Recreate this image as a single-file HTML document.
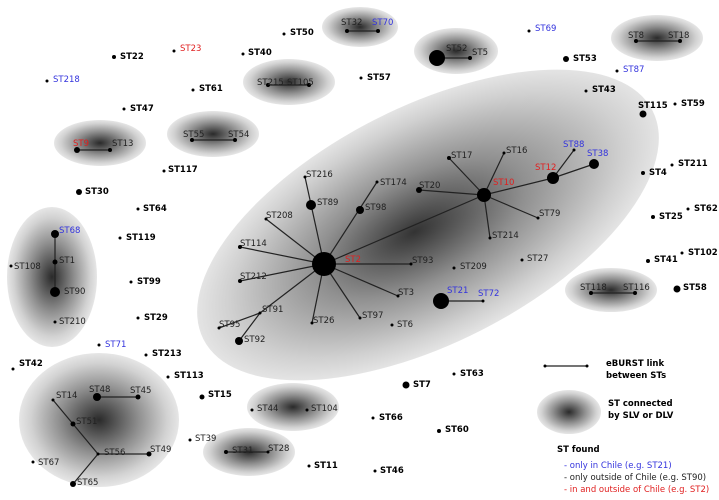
<!DOCTYPE html>
<html><head><style>
html,body{margin:0;padding:0;background:#fff}
svg{display:block}
text{font-family:"DejaVu Sans","Liberation Sans",sans-serif;font-size:8.5px;fill:#222}
.b{font-weight:bold;fill:#000}
.bl{fill:#3333dd}.rd{fill:#e02020}
line{stroke:#222;stroke-width:1.2}
</style></head><body>
<svg width="719" height="500" viewBox="0 0 719 500" xmlns="http://www.w3.org/2000/svg">
<defs>
<radialGradient id="g" cx="50%" cy="50%" r="50%">
<stop offset="0" stop-color="#2a2a2a"/><stop offset="0.5" stop-color="#909090"/><stop offset="0.85" stop-color="#d2d2d2"/><stop offset="1" stop-color="#e6e6e6"/>
</radialGradient>
<radialGradient id="gm" cx="50%" cy="50%" r="50%" fx="47%" fy="50%">
<stop offset="0" stop-color="#333"/><stop offset="0.45" stop-color="#909090"/><stop offset="0.85" stop-color="#d0d0d0"/><stop offset="1" stop-color="#e4e4e4"/>
</radialGradient>
</defs>
<ellipse cx="428" cy="225" rx="252" ry="118" transform="rotate(-27 428 225)" fill="url(#gm)"/>
<ellipse cx="360" cy="27" rx="38" ry="20" fill="url(#g)"/>
<ellipse cx="456" cy="51" rx="42" ry="23" fill="url(#g)"/>
<ellipse cx="657" cy="38" rx="46" ry="23" fill="url(#g)"/>
<ellipse cx="289" cy="82" rx="46" ry="23" fill="url(#g)"/>
<ellipse cx="213" cy="134" rx="46" ry="23" fill="url(#g)"/>
<ellipse cx="100" cy="143" rx="46" ry="23" fill="url(#g)"/>
<ellipse cx="52" cy="277" rx="45" ry="70" fill="url(#g)"/>
<ellipse cx="611" cy="290" rx="46" ry="22" fill="url(#g)"/>
<ellipse cx="293" cy="407" rx="46" ry="24" fill="url(#g)"/>
<ellipse cx="249" cy="452" rx="46" ry="24" fill="url(#g)"/>
<ellipse cx="99" cy="420" rx="80" ry="67" fill="url(#g)"/>
<ellipse cx="569" cy="412" rx="32" ry="22" fill="url(#g)"/>

<g>
<line x1="347" y1="31" x2="378" y2="31"/><line x1="437" y1="58" x2="470" y2="58"/><line x1="636" y1="41" x2="680" y2="41"/>
<line x1="268" y1="85" x2="309" y2="85"/><line x1="192" y1="140" x2="235" y2="140"/><line x1="77" y1="150" x2="110" y2="150"/>
<line x1="55" y1="234" x2="55" y2="292"/><line x1="591" y1="293" x2="635" y2="293"/>
<line x1="226" y1="452" x2="268" y2="452"/><line x1="97" y1="397" x2="138" y2="397"/>
<line x1="53" y1="400" x2="73" y2="424"/><line x1="73" y1="424" x2="98" y2="454"/><line x1="98" y1="454" x2="149" y2="454"/><line x1="98" y1="454" x2="73" y2="484"/>
<line x1="545" y1="366" x2="587" y2="366"/>
<g>
<line x1="324" y1="264" x2="305" y2="177"/><line x1="324" y1="264" x2="377" y2="182"/><line x1="324" y1="264" x2="266" y2="219"/>
<line x1="324" y1="264" x2="240" y2="247"/><line x1="324" y1="264" x2="240" y2="281"/><line x1="324" y1="264" x2="260" y2="313"/>
<line x1="260" y1="313" x2="219" y2="328"/><line x1="260" y1="313" x2="239" y2="341"/><line x1="324" y1="264" x2="312" y2="323"/>
<line x1="324" y1="264" x2="360" y2="318"/><line x1="324" y1="264" x2="398" y2="296"/><line x1="324" y1="264" x2="411" y2="264"/>
<line x1="324" y1="264" x2="484" y2="195"/><line x1="484" y1="195" x2="449" y2="158"/><line x1="484" y1="195" x2="504" y2="153"/>
<line x1="484" y1="195" x2="419" y2="190"/><line x1="484" y1="195" x2="490" y2="238"/><line x1="484" y1="195" x2="538" y2="218"/>
<line x1="484" y1="195" x2="553" y2="178"/><line x1="553" y1="178" x2="574" y2="150"/><line x1="553" y1="178" x2="594" y2="164"/>
<line x1="441" y1="301" x2="483" y2="301"/>
</g>
</g>
<g fill="#000">
<circle cx="347" cy="31" r="2"/><circle cx="378" cy="31" r="2"/><circle cx="437" cy="58" r="8"/><circle cx="470" cy="58" r="2"/>
<circle cx="636" cy="41" r="2"/><circle cx="680" cy="41" r="2"/><circle cx="268" cy="85" r="2"/><circle cx="309" cy="85" r="2"/>
<circle cx="192" cy="140" r="2"/><circle cx="235" cy="140" r="2"/><circle cx="77" cy="150" r="3"/><circle cx="110" cy="150" r="2"/>
<circle cx="55" cy="234" r="4"/><circle cx="55" cy="262" r="2.5"/><circle cx="55" cy="292" r="5"/><circle cx="11" cy="266" r="1.5"/><circle cx="55" cy="322" r="1.5"/>
<circle cx="591" cy="293" r="2"/><circle cx="635" cy="293" r="2"/><circle cx="252" cy="410" r="1.5"/><circle cx="307" cy="410" r="1.5"/>
<circle cx="226" cy="452" r="2"/><circle cx="268" cy="452" r="1.5"/>
<circle cx="97" cy="397" r="4"/><circle cx="138" cy="397" r="2.5"/><circle cx="53" cy="400" r="1.5"/><circle cx="73" cy="424" r="2.5"/><circle cx="98" cy="454" r="1.5"/><circle cx="149" cy="454" r="2.5"/><circle cx="73" cy="484" r="3"/><circle cx="33" cy="462" r="1.5"/>
<circle cx="545" cy="366" r="1.5"/><circle cx="587" cy="366" r="1.5"/>
<circle cx="324" cy="264" r="12"/><circle cx="305" cy="177" r="1.5"/><circle cx="311" cy="205" r="5"/><circle cx="377" cy="182" r="1.5"/><circle cx="360" cy="210" r="4"/>
<circle cx="266" cy="219" r="1.5"/><circle cx="240" cy="247" r="2"/><circle cx="240" cy="281" r="2"/><circle cx="260" cy="313" r="1.5"/><circle cx="219" cy="328" r="1.5"/><circle cx="239" cy="341" r="4"/>
<circle cx="312" cy="323" r="1.5"/><circle cx="360" cy="318" r="1.5"/><circle cx="398" cy="296" r="1.5"/><circle cx="392" cy="325" r="1.5"/><circle cx="411" cy="264" r="1.5"/><circle cx="454" cy="268" r="1.5"/>
<circle cx="441" cy="301" r="8"/><circle cx="483" cy="301" r="1.5"/><circle cx="522" cy="260" r="1.5"/><circle cx="484" cy="195" r="7"/><circle cx="449" cy="158" r="2"/><circle cx="504" cy="153" r="1.5"/>
<circle cx="419" cy="190" r="3"/><circle cx="490" cy="238" r="1.5"/><circle cx="538" cy="218" r="1.5"/><circle cx="553" cy="178" r="6"/><circle cx="574" cy="150" r="1.5"/><circle cx="594" cy="164" r="5"/>
<circle cx="114" cy="57" r="2"/><circle cx="174" cy="51" r="1.5"/><circle cx="243" cy="54" r="1.5"/><circle cx="284" cy="34" r="1.5"/><circle cx="47" cy="81" r="1.5"/>
<circle cx="193" cy="90" r="1.5"/><circle cx="361" cy="78" r="1.5"/><circle cx="124" cy="109" r="1.5"/><circle cx="164" cy="171" r="1.5"/><circle cx="79" cy="192" r="3"/>
<circle cx="138" cy="209" r="1.5"/><circle cx="120" cy="238" r="1.5"/><circle cx="131" cy="282" r="1.5"/><circle cx="138" cy="318" r="1.5"/><circle cx="99" cy="345" r="1.5"/>
<circle cx="146" cy="355" r="1.5"/><circle cx="13" cy="369" r="1.5"/><circle cx="168" cy="377" r="1.5"/><circle cx="202" cy="397" r="2.5"/><circle cx="190" cy="440" r="1.5"/>
<circle cx="309" cy="466" r="1.5"/><circle cx="375" cy="471" r="1.5"/><circle cx="373" cy="418" r="1.5"/><circle cx="439" cy="431" r="2"/><circle cx="406" cy="385" r="3.5"/><circle cx="454" cy="374" r="1.5"/>
<circle cx="529" cy="31" r="1.5"/><circle cx="566" cy="59" r="3"/><circle cx="617" cy="71" r="1.5"/><circle cx="586" cy="91" r="1.5"/><circle cx="643" cy="114" r="3.5"/><circle cx="675" cy="104" r="1.5"/>
<circle cx="643" cy="173" r="2"/><circle cx="672" cy="165" r="1.5"/><circle cx="653" cy="217" r="2"/><circle cx="688" cy="209" r="1.5"/><circle cx="648" cy="261" r="2"/><circle cx="682" cy="253" r="1.5"/><circle cx="677" cy="289" r="3.5"/>
</g>
<g>
<text x="341" y="25">ST32</text><text x="372" y="25" class="bl">ST70</text>
<text x="446" y="51">ST52</text><text x="472" y="55">ST5</text>
<text x="628" y="38">ST8</text><text x="668" y="38">ST18</text>
<text x="257" y="85">ST215</text><text x="287" y="85">ST105</text>
<text x="183" y="137">ST55</text><text x="228" y="137">ST54</text>
<text x="73" y="146" class="rd">ST9</text><text x="112" y="146">ST13</text>
<text x="59" y="233" class="bl">ST68</text><text x="59" y="263">ST1</text><text x="64" y="294">ST90</text><text x="14" y="269">ST108</text><text x="59" y="324">ST210</text>
<text x="580" y="290">ST118</text><text x="623" y="290">ST116</text>
<text x="257" y="411">ST44</text><text x="311" y="411">ST104</text>
<text x="232" y="453">ST31</text><text x="268" y="451">ST28</text>
<text x="89" y="392">ST48</text><text x="130" y="393">ST45</text><text x="56" y="398">ST14</text><text x="76" y="424">ST51</text><text x="104" y="455">ST56</text><text x="150" y="452">ST49</text><text x="38" y="465">ST67</text><text x="77" y="485">ST65</text>
<text x="306" y="177">ST216</text><text x="317" y="205">ST89</text><text x="380" y="185">ST174</text><text x="365" y="210">ST98</text><text x="266" y="218">ST208</text>
<text x="240" y="246">ST114</text><text x="240" y="279">ST212</text><text x="262" y="312">ST91</text><text x="219" y="327">ST95</text><text x="244" y="342">ST92</text>
<text x="313" y="323">ST26</text><text x="362" y="318">ST97</text><text x="398" y="295">ST3</text><text x="397" y="327">ST6</text><text x="412" y="263">ST93</text><text x="460" y="269">ST209</text>
<text x="345" y="262" class="rd">ST2</text><text x="447" y="293" class="bl">ST21</text><text x="478" y="296" class="bl">ST72</text><text x="527" y="261">ST27</text>
<text x="493" y="185" class="rd">ST10</text><text x="451" y="158">ST17</text><text x="506" y="153">ST16</text><text x="419" y="188">ST20</text><text x="492" y="238">ST214</text><text x="539" y="216">ST79</text>
<text x="535" y="170" class="rd">ST12</text><text x="563" y="147" class="bl">ST88</text><text x="587" y="156" class="bl">ST38</text>
<text x="120" y="59" class="b">ST22</text><text x="180" y="51" class="rd">ST23</text><text x="248" y="55" class="b">ST40</text><text x="290" y="35" class="b">ST50</text><text x="53" y="82" class="bl">ST218</text>
<text x="199" y="91" class="b">ST61</text><text x="367" y="80" class="b">ST57</text><text x="130" y="111" class="b">ST47</text><text x="168" y="172" class="b">ST117</text><text x="85" y="194" class="b">ST30</text>
<text x="143" y="211" class="b">ST64</text><text x="126" y="240" class="b">ST119</text><text x="137" y="284" class="b">ST99</text><text x="144" y="320" class="b">ST29</text><text x="105" y="347" class="bl">ST71</text>
<text x="152" y="356" class="b">ST213</text><text x="19" y="366" class="b">ST42</text><text x="174" y="378" class="b">ST113</text><text x="208" y="397" class="b">ST15</text><text x="195" y="441">ST39</text>
<text x="314" y="468" class="b">ST11</text><text x="380" y="473" class="b">ST46</text><text x="379" y="420" class="b">ST66</text><text x="445" y="432" class="b">ST60</text><text x="413" y="387" class="b">ST7</text><text x="460" y="376" class="b">ST63</text>
<text x="535" y="31" class="bl">ST69</text><text x="573" y="61" class="b">ST53</text><text x="623" y="72" class="bl">ST87</text><text x="592" y="92" class="b">ST43</text><text x="638" y="108" class="b">ST115</text><text x="681" y="106" class="b">ST59</text>
<text x="649" y="175" class="b">ST4</text><text x="678" y="166" class="b">ST211</text><text x="659" y="219" class="b">ST25</text><text x="694" y="211" class="b">ST62</text><text x="654" y="262" class="b">ST41</text><text x="688" y="255" class="b">ST102</text><text x="683" y="290" class="b">ST58</text>
<text x="606" y="366" class="b">eBURST link</text><text x="606" y="378" class="b">between STs</text>
<text x="608" y="406" class="b">ST connected</text><text x="608" y="418" class="b">by SLV or DLV</text>
<text x="557" y="452" class="b">ST found</text>
<text x="564" y="468" class="bl">- only in Chile (e.g. ST21)</text>
<text x="564" y="480">- only outside of Chile (e.g. ST90)</text>
<text x="564" y="492" class="rd">- in and outside of Chile (e.g. ST2)</text>
</g>
</svg>
</body></html>
